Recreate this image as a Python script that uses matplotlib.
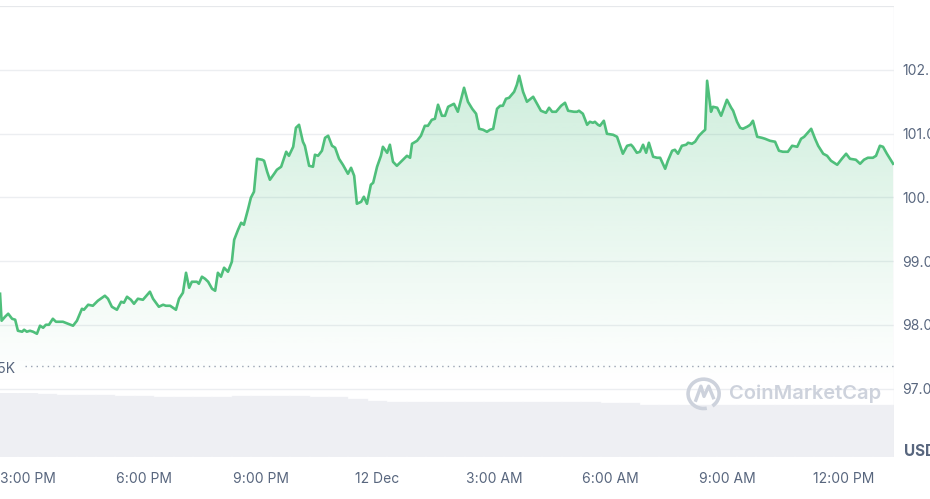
import numpy as np
import matplotlib
matplotlib.use("Agg")
import matplotlib.pyplot as plt
from matplotlib.patches import Arc

plt.rcParams["font.family"] = ["Inter", "DejaVu Sans"]

# hours after 12:00 PM (11 Dec) and price in thousands USD
hours = [2.28, 2.32, 2.41, 2.49, 2.59, 2.67, 2.74, 2.85, 2.90, 2.97, 3.05, 3.13, 3.23, 3.31,
         3.39, 3.46, 3.54, 3.64, 3.72, 3.90, 4.03, 4.16, 4.26, 4.39, 4.44, 4.55, 4.67, 4.80,
         4.98, 5.06, 5.16, 5.29, 5.40, 5.47, 5.55, 5.65, 5.73, 5.83, 5.96, 6.14, 6.22, 6.37,
         6.48, 6.55, 6.66, 6.81, 6.89, 6.99, 7.07, 7.15, 7.22, 7.35, 7.40, 7.48, 7.56, 7.64,
         7.74, 7.82, 7.89, 7.97, 8.05, 8.15, 8.25, 8.31, 8.41, 8.49, 8.56, 8.67, 8.74, 8.82,
         8.90, 9.03, 9.08, 9.16, 9.23, 9.34, 9.41, 9.52, 9.65, 9.72, 9.83, 9.90, 9.98, 10.08,
         10.13, 10.24, 10.34, 10.39, 10.47, 10.57, 10.65, 10.73, 10.83, 10.91, 11.01, 11.11,
         11.24, 11.32, 11.40, 11.47, 11.58, 11.65, 11.73, 11.83, 11.89, 11.99, 12.09, 12.14,
         12.25, 12.32, 12.40, 12.50, 12.63, 12.76, 12.84, 12.89, 13.02, 13.12, 13.22, 13.30,
         13.40, 13.48, 13.56, 13.66, 13.74, 13.82, 13.97, 14.07, 14.23, 14.33, 14.44, 14.54,
         14.62, 14.72, 14.82, 14.90, 14.98, 15.08, 15.16, 15.23, 15.31, 15.39, 15.52, 15.59,
         15.65, 15.75, 15.85, 16.01, 16.11, 16.21, 16.34, 16.42, 16.50, 16.60, 16.73, 16.83,
         16.91, 17.06, 17.14, 17.19, 17.29, 17.40, 17.47, 17.55, 17.60, 17.68, 17.73, 17.83,
         17.91, 18.07, 18.17, 18.32, 18.43, 18.53, 18.58, 18.68, 18.76, 18.84, 18.92, 18.99,
         19.10, 19.20, 19.28, 19.41, 19.48, 19.59, 19.66, 19.74, 19.84, 19.95, 20.00, 20.10,
         20.18, 20.28, 20.38, 20.44, 20.49, 20.59, 20.64, 20.75, 20.85, 21.00, 21.11, 21.16,
         21.26, 21.34, 21.41, 21.52, 21.60, 21.67, 21.78, 21.90, 21.98, 22.11, 22.24, 22.34,
         22.44, 22.57, 22.68, 22.81, 22.91, 22.99, 23.17, 23.27, 23.35, 23.48, 23.58, 23.68,
         23.84, 23.96, 24.07, 24.17, 24.32, 24.43, 24.53, 24.63, 24.76, 24.84, 24.94, 25.02,
         25.12, 25.28]
price = [98.489, 98.066, 98.129, 98.176, 98.097, 98.082, 97.909, 97.894, 97.925, 97.894,
         97.909, 97.894, 97.862, 97.988, 97.956, 98.003, 98.003, 98.097, 98.050, 98.050,
         98.019, 97.988, 98.066, 98.254, 98.238, 98.317, 98.301, 98.380, 98.458, 98.411,
         98.285, 98.238, 98.364, 98.348, 98.442, 98.395, 98.332, 98.411, 98.395, 98.521,
         98.411, 98.285, 98.317, 98.301, 98.301, 98.238, 98.411, 98.505, 98.818, 98.583,
         98.677, 98.677, 98.646, 98.756, 98.724, 98.677, 98.568, 98.536, 98.818, 98.756,
         98.897, 98.834, 98.991, 99.336, 99.492, 99.602, 99.571, 99.821, 99.994, 100.088,
         100.605, 100.590, 100.574, 100.401, 100.276, 100.370, 100.433, 100.480, 100.715,
         100.652, 100.793, 101.091, 101.138, 100.872, 100.809, 100.495, 100.480, 100.668,
         100.652, 100.731, 100.934, 100.966, 100.809, 100.778, 100.605, 100.511, 100.370,
         100.464, 100.339, 99.900, 99.931, 100.010, 99.900, 100.198, 100.229, 100.480,
         100.652, 100.793, 100.699, 100.825, 100.558, 100.495, 100.574, 100.652, 100.621,
         100.840, 100.887, 100.966, 101.122, 101.122, 101.216, 101.232, 101.452, 101.279,
         101.279, 101.420, 101.467, 101.342, 101.718, 101.499, 101.389, 101.311, 101.075,
         101.060, 101.028, 101.060, 101.075, 101.389, 101.436, 101.436, 101.546, 101.561,
         101.655, 101.765, 101.906, 101.655, 101.499, 101.577, 101.467, 101.358, 101.326,
         101.405, 101.342, 101.342, 101.436, 101.483, 101.358, 101.342, 101.342, 101.358,
         101.311, 101.138, 101.185, 101.169, 101.185, 101.138, 101.122, 101.201, 100.997,
         100.981, 100.950, 100.684, 100.809, 100.825, 100.793, 100.699, 100.715, 100.825,
         100.699, 100.856, 100.637, 100.621, 100.621, 100.448, 100.574, 100.731, 100.746,
         100.684, 100.809, 100.825, 100.856, 100.840, 100.872, 100.966, 101.028, 101.060,
         101.828, 101.342, 101.420, 101.405, 101.279, 101.530, 101.405, 101.358, 101.185,
         101.091, 101.075, 101.107, 101.138, 101.201, 100.950, 100.934, 100.919, 100.887,
         100.872, 100.731, 100.715, 100.715, 100.809, 100.793, 100.919, 100.950, 101.075,
         100.919, 100.809, 100.684, 100.652, 100.574, 100.511, 100.605, 100.684, 100.605,
         100.590, 100.527, 100.590, 100.621, 100.621, 100.652, 100.809, 100.793, 100.684,
         100.527]

# volume (relative index) every half hour
vol_hours = [2.25 + 0.5 * i for i in range(47)]
volume = [100, 100, 98.4, 96.9, 96.9, 96.9, 95.3, 95.3, 93.8, 93.8, 93.8, 93.8, 95.3, 95.3,
          95.8, 95.3, 93.8, 93.0, 90.6, 87.5, 86.7, 85.9, 85.5, 85.5, 85.5, 85.5, 85.5, 85.5,
          85.5, 85.5, 85.5, 84.4, 84.4, 82.0, 81.3, 81.3, 81.3, 81.3, 81.3, 81.3, 81.3, 81.3,
          81.3, 81.3, 81.3, 81.3, 81.3]

open_price = 97.36
xticks = [3, 6, 9, 12, 15, 18, 21, 24]
xlabels = ["3:00 PM", "6:00 PM", "9:00 PM", "12 Dec", "3:00 AM", "6:00 AM", "9:00 AM", "12:00 PM"]
yticks = [97, 98, 99, 100, 101, 102]
ylabels = ["97.0K", "98.0K", "99.0K", "100.0K", "101.0K", "102.0K"]

GREEN = "#4fbf7b"
GREY = "#58667e"
XMIN, XMAX = 2.279, 25.303

fig = plt.figure(figsize=(9.3, 4.99), dpi=100)
W, H = 930, 499
left, right = 0, 894 / W
bot, top = (H - 457) / H, (H - 6) / H

# volume panel
axv = fig.add_axes([left, bot, right - left, (457 - 393) / H])
axv.bar(vol_hours, volume, width=0.5, align="edge", color="#eeeff3",
        edgecolor="#f2f3f6", linewidth=0.3)
axv.set_xlim(XMIN, XMAX); axv.set_ylim(0, 100)
axv.axis("off")

ax = fig.add_axes([left, bot, right - left, top - bot])
ax.patch.set_alpha(0)

# gradient fill under line
t = np.array(hours); p = np.array(price)
poly = ax.fill_between(t, p, open_price - 0.35, color="none", lw=0)
grad = np.zeros((256, 1, 4))
grad[..., :3] = matplotlib.colors.to_rgb("#2fb76a")
ys = np.linspace(0, 1, 256)  # 0 = bottom
grad[:, 0, 3] = ys ** 1.1 * 0.24
im = ax.imshow(grad, extent=[XMIN, XMAX, open_price - 0.35, 102.0], origin="lower",
               aspect="auto", zorder=1, interpolation="bilinear")
im.set_clip_path(poly.get_paths()[0], transform=ax.transData)
ax.set_xlim(XMIN, XMAX); ax.set_ylim(95.93, 103)

ax.plot(t, p, color=GREEN, lw=1.9, zorder=4, solid_joinstyle="round")

# grid
for y in yticks:
    ax.axhline(y, color="#eceef1", lw=1.0, zorder=0.5)
ax.axhline(103, color="#e6e8eb", lw=1.6, zorder=0.5)
ax.axvline(XMAX, color="#eceef1", lw=1.0)

# open price dotted line
ax.axhline(open_price, xmin=0.028, color="#9aa3b2", lw=1.0, ls=(0, (1, 3)), zorder=2)
ax.text(XMIN + 0.38, open_price - 0.05, "97.35K", ha="right", va="center", fontsize=10,
        color=GREY, zorder=5)

for s in ax.spines.values():
    s.set_visible(False)
ax.yaxis.tick_right()
ax.set_yticks(yticks)
ax.set_yticklabels(ylabels)
ax.set_xticks(xticks)
ax.set_xticklabels(xlabels)
ax.tick_params(axis="both", length=0, labelsize=10, labelcolor=GREY)
ax.tick_params(axis="x", pad=11)
ax.tick_params(axis="y", pad=6)

# watermark
ax.add_patch(Arc((20.4, 96.92), 0.8, 0.46, angle=0, theta1=-40, theta2=290,
                 color="#cdd2dc", lw=2.6, zorder=3))
ax.plot([20.2, 20.33, 20.41, 20.53, 20.65], [96.82, 97.04, 96.88, 97.04, 96.86],
        color="#cdd2dc", lw=2.4, zorder=3)
ax.text(21.05, 96.92, "CoinMarketCap", fontsize=14.5, fontweight="semibold",
        color="#cdd2dc", va="center", ha="left", zorder=3)

fig.text(904 / W, 1 - 452 / H, "USD", fontsize=11, fontweight="bold", color=GREY,
         va="center", ha="left")

fig.savefig("out.png", dpi=100)
